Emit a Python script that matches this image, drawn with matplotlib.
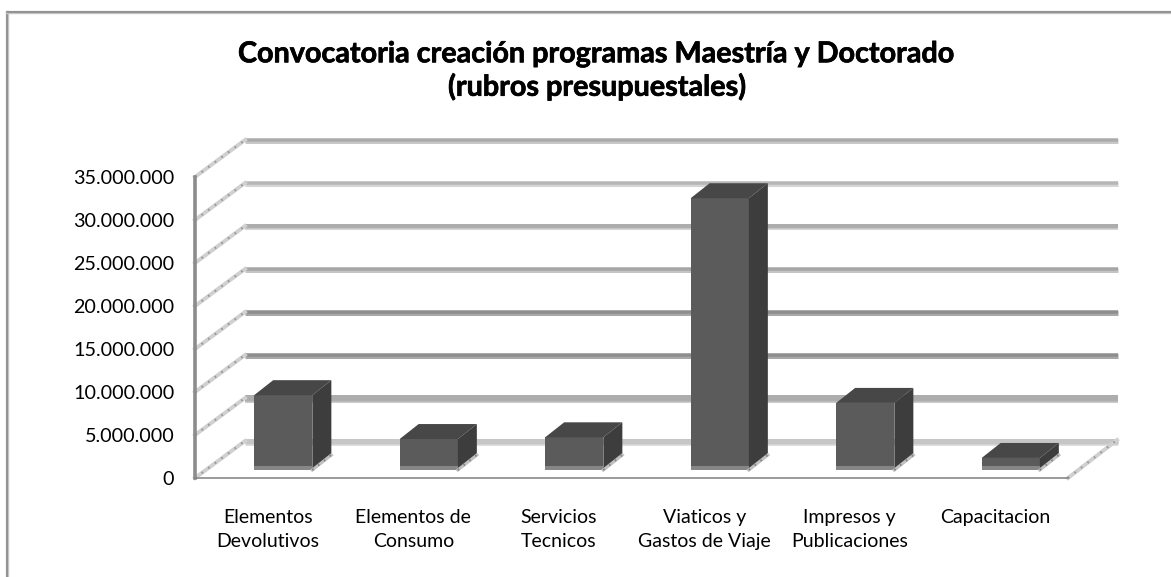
import matplotlib
matplotlib.use('Agg')
import matplotlib.pyplot as plt
import matplotlib.patheffects as pe
from matplotlib.lines import Line2D
from matplotlib.patches import Polygon
from matplotlib.transforms import Affine2D, IdentityTransform

categorias = ['Elementos\nDevolutivos', 'Elementos de\nConsumo', 'Servicios\nTecnicos',
              'Viaticos y\nGastos de Viaje', 'Impresos y\nPublicaciones', 'Capacitacion']
valores = [8700000, 3600000, 3800000, 31600000, 7800000, 1400000]
ticks = [0, 5000000, 10000000, 15000000, 20000000, 25000000, 30000000, 35000000]
tick_labels = ['0', '5.000.000', '10.000.000', '15.000.000', '20.000.000', '25.000.000', '30.000.000', '35.000.000']
grid_colores = ['#c6c6c6', '#adadad', '#8e8e8e', '#8e8e8e', '#a6a6a6', '#adadad', '#b6b6b6', '#ababab']
grid_anchos = [5, 6, 3.5, 3.5, 3.5, 4, 3.5, 3.5]
grid_claros = ['#d4d4d4', '#bcbcbc', '#a8a8a8', '#a8a8a8', '#c4c4c4', '#c8c8c8', '#d4d4d4', '#c8c8c8']
titulo = 'Convocatoria creación programas Maestría y Doctorado\n(rubros presupuestales)'

W, H = 1171, 577
plt.rcParams['font.family'] = ['Lato', 'DejaVu Sans']

fig = plt.figure(figsize=(W / 100, H / 100), dpi=100)
ax = fig.add_axes([195 / W, 1 - 478 / H, 873 / W, 301 / H])
ax.set_xlim(0, 6)
ax.set_ylim(0, 35000000)
ax.patch.set_visible(False)
for s in ax.spines.values():
    s.set_visible(False)
ax.tick_params(length=0)


def mover(dx, dy):
    return ax.transData + Affine2D().translate(dx, dy)


def pared(x0, y0, dx, dy, orden=2):
    ax.plot([x0, x0 + dx], [y0, y0 + dy], color='#d0d0d0', lw=2.8,
            transform=IdentityTransform(), clip_on=False, zorder=orden)
    ax.plot([x0, x0 + dx], [y0, y0 + dy], color='#969696', lw=1.6, ls=(0, (0.7, 3)),
            transform=IdentityTransform(), clip_on=False, zorder=orden)


# profundidad del grafico 3D en pixeles
PX, PY = 50, 37
FX, FY = 15.5, 8   # frente de la barra
BX, BY = 19, 15  # fondo de la barra

# marco del grafico, solo arriba y a la izquierda
for xs, ys in [([7 / W, 7 / W], [0, 1 - 12 / H]), ([7 / W, 1], [1 - 12 / H, 1 - 12 / H])]:
    fig.add_artist(Line2D(xs, ys, color='#c4c4c4', lw=2.4, transform=fig.transFigure))
    fig.add_artist(Line2D(xs, ys, color='#858585', lw=1.1, transform=fig.transFigure))

# lineas de fondo y paredes
for v, c, k, a in zip(ticks, grid_colores, grid_claros, grid_anchos):
    ax.plot([0, 6], [v, v], color=k, lw=(a + 1.5) * 0.72, transform=mover(PX, PY - 1), clip_on=False,
            solid_capstyle='butt', zorder=1)
    ax.plot([0, 6], [v, v], color=c, lw=a * 0.72, transform=mover(PX, PY), clip_on=False,
            solid_capstyle='butt', zorder=1)
    p0 = ax.transData.transform((0, v))
    pared(p0[0], p0[1], PX, PY)

# eje y piso
ax.plot([0, 0], [0, 35000000], color='#8c8c8c', lw=2.6, clip_on=False, zorder=3)
ax.plot([0, 6], [0, 0], color='#808080', lw=1.1, clip_on=False, zorder=3)
p1 = ax.transData.transform((6, 0))
pared(p1[0], p1[1], PX - 1, PY + 1)

# barras
ancho = 0.4
for i, v in enumerate(valores):
    x = i + 0.5
    ax.bar(x, v, width=ancho, color='#5b5b5b', transform=mover(FX, FY), clip_on=False, zorder=5)
    ax.bar(x, 500000, width=ancho, color='#868686', transform=mover(FX, FY), clip_on=False, zorder=6)
    iz = ax.transData.transform((x - ancho / 2, v)) + (FX, FY)
    de = ax.transData.transform((x + ancho / 2, v)) + (FX, FY)
    ba = ax.transData.transform((x + ancho / 2, 0)) + (FX, FY)
    ax.add_patch(Polygon([iz, de, de + (BX, BY), iz + (BX, BY)], closed=True, fc='#474747', ec='none',
                         transform=IdentityTransform(), clip_on=False, zorder=5))
    ax.add_patch(Polygon([de, de + (BX, BY), ba + (BX, BY), ba], closed=True, fc='#3d3d3d', ec='none',
                         transform=IdentityTransform(), clip_on=False, zorder=5))
    ax.plot([ba[0], ba[0] + BX], [ba[1], ba[1] + BY], color='#c0c0c0', lw=2.2,
            transform=IdentityTransform(), clip_on=False, zorder=6)
    ax.plot([ba[0], ba[0] + BX], [ba[1], ba[1] + BY], color='#808080', lw=1.4, ls=(0, (0.8, 3)),
            transform=IdentityTransform(), clip_on=False, zorder=6)

ax.set_yticks(ticks)
ax.set_yticklabels(tick_labels, fontsize=14.2, color='black')
ax.tick_params(axis='y', pad=15)
ax.set_xticks([i + 0.5 for i in range(6)])
ax.set_xticklabels(categorias, fontsize=14, color='black', linespacing=1.55)
ax.tick_params(axis='x', pad=22)

t = fig.text(597 / W, 1 - 71 / H, titulo, fontsize=20.7, fontweight='bold', color='black', ha='center', va='center',
             linespacing=1.26)
t.set_path_effects([pe.withStroke(linewidth=0.5, foreground='black')])

plt.savefig('out.png', dpi=100)
